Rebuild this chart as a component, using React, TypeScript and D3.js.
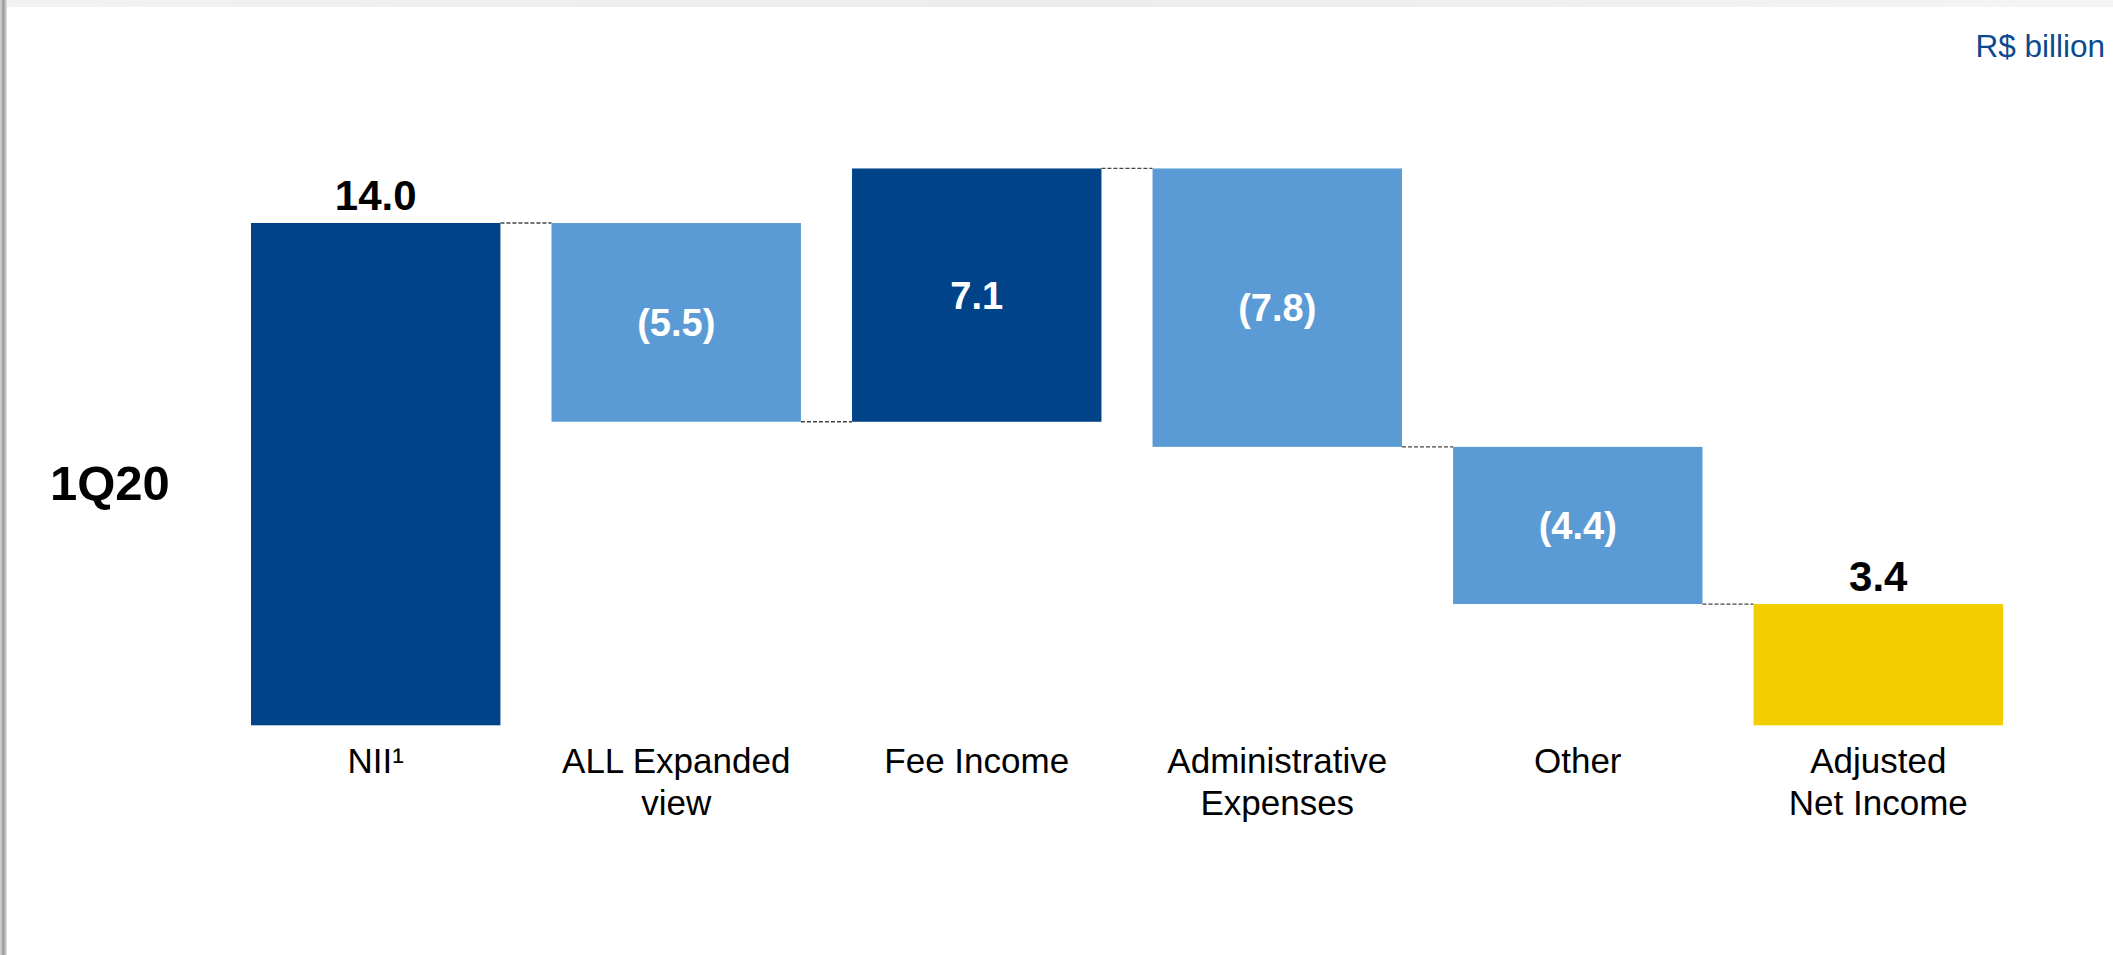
import React from "react";
import * as d3 from "d3";

const categories: string[][] = [
  ["NII¹"],
  ["ALL Expanded", "view"],
  ["Fee Income"],
  ["Administrative", "Expenses"],
  ["Other"],
  ["Adjusted", "Net Income"],
];
const values: number[] = [14.0, -5.54, 7.06, -7.76, -4.38, 3.38];
const kinds: string[] = ["total", "delta", "delta", "delta", "delta", "total"];
const periodLabel = "1Q20";
const unitLabel = "R$ billion";

const W = 2113;
const H = 955;
const FONT = "'Liberation Sans', Arial, Helvetica, sans-serif";
const DARK = "#004388";
const LIGHT = "#5B9BD5";
const YELLOW = "#F2CE00";

export default function App() {
  const x = d3
    .scaleBand<number>()
    .domain(d3.range(values.length))
    .range([251, 2003])
    .paddingInner(0.17)
    .paddingOuter(0);
  const y = d3.scaleLinear().domain([0, 14]).range([725.3, 223]);

  // running totals
  let run = 0;
  const bars = values.map((v, i) => {
    let start: number, end: number;
    if (kinds[i] === "total") {
      start = 0;
      end = v;
      run = v;
    } else {
      start = run;
      end = run + v;
      run = end;
    }
    return { i, v, start, end, level: end };
  });

  const fmt = d3.format(".1f");
  const label = (v: number) => (v < 0 ? `(${fmt(-v)})` : fmt(v));
  const color = (i: number) => {
    if (i === values.length - 1) return YELLOW;
    if (kinds[i] === "total" || values[i] > 0) return DARK;
    return LIGHT;
  };

  return (
    <svg
      width={W}
      height={H}
      style={{ position: "absolute", left: 0, top: 0, background: "#fff" }}
      fontFamily={FONT}
    >
      <defs>
        <linearGradient id="leftShadow" x1="0" x2="1" y1="0" y2="0">
          <stop offset="0" stopColor="#d8d8d8" />
          <stop offset="0.5" stopColor="#9a9a9a" />
          <stop offset="1" stopColor="#e6e6e6" />
        </linearGradient>
        <linearGradient id="topBand" x1="0" x2="1" y1="0" y2="0">
          <stop offset="0" stopColor="#f2f2f2" />
          <stop offset="0.5" stopColor="#ececec" />
          <stop offset="1" stopColor="#f4f4f4" />
        </linearGradient>
      </defs>
      <rect x={0} y={0} width={W} height={H} fill="#fff" />
      <rect x={0} y={0} width={W} height={7} fill="url(#topBand)" />
      <rect x={0} y={0} width={7} height={H} fill="url(#leftShadow)" />

      {/* connectors */}
      {bars.slice(0, -1).map((b) => (
        <line
          key={`c${b.i}`}
          x1={(x(b.i) as number) + x.bandwidth()}
          x2={x(b.i + 1) as number}
          y1={y(b.level)}
          y2={y(b.level)}
          stroke="#444"
          strokeWidth={1.3}
          strokeDasharray="4,2"
        />
      ))}

      {/* bars */}
      {bars.map((b) => {
        const top = y(Math.max(b.start, b.end));
        const bottom = y(Math.min(b.start, b.end));
        return (
          <rect
            key={`b${b.i}`}
            x={x(b.i)}
            y={top}
            width={x.bandwidth()}
            height={bottom - top}
            fill={color(b.i)}
          />
        );
      })}

      {/* value labels */}
      {bars.map((b) => {
        const cx = (x(b.i) as number) + x.bandwidth() / 2;
        if (kinds[b.i] === "total") {
          return (
            <text
              key={`v${b.i}`}
              x={cx}
              y={y(b.end) - 13}
              textAnchor="middle"
              fontWeight="bold"
              fontSize={42}
              fill="#000"
            >
              {label(b.v)}
            </text>
          );
        }
        const mid = (y(b.start) + y(b.end)) / 2;
        return (
          <text
            key={`v${b.i}`}
            x={cx}
            y={mid + 13.5}
            textAnchor="middle"
            fontWeight="bold"
            fontSize={38}
            fill="#fff"
          >
            {label(b.v)}
          </text>
        );
      })}

      {/* category labels */}
      {categories.map((lines, i) => (
        <text
          key={`l${i}`}
          x={(x(i) as number) + x.bandwidth() / 2}
          y={772.7}
          textAnchor="middle"
          fontSize={35}
          fill="#000"
        >
          {lines.map((ln, j) => (
            <tspan key={j} x={(x(i) as number) + x.bandwidth() / 2} dy={j === 0 ? 0 : 42.5}>
              {ln}
            </tspan>
          ))}
        </text>
      ))}

      <text x={50} y={500} fontSize={49} fontWeight="bold" fill="#000">
        {periodLabel}
      </text>
      <text x={2105} y={57} fontSize={31.5} textAnchor="end" fill="#0B4A8F">
        {unitLabel}
      </text>
    </svg>
  );
}
